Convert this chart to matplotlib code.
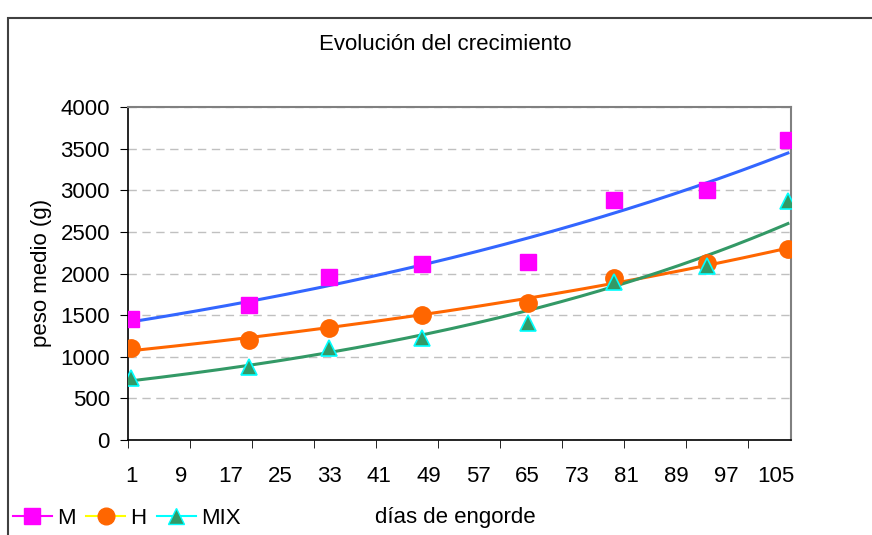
# Imports =====================================================================
import numpy as np
import matplotlib.pyplot as plt
from matplotlib.lines import Line2D
from matplotlib.patches import Rectangle

plt.rcParams['font.family'] = ['Liberation Sans', 'DejaVu Sans']

# Data ========================================================================
dias = [1, 20, 33, 48, 65, 79, 94, 107]
peso_m = [1448, 1620, 1952, 2120, 2140, 2888, 3008, 3600]
peso_h = [1108, 1200, 1340, 1500, 1640, 1948, 2128, 2292]
peso_mix = [740, 880, 1108, 1220, 1400, 1900, 2088, 2868]
label_ticks = list(range(1, 106, 8))
mark_ticks = [d + 0.5 for d in range(0, 101, 10)]


def exp_trend(x, y):
    # exponential trendline (least squares on log y), like the spreadsheet
    b, a = np.polyfit(x, np.log(y), 1)
    xs = np.linspace(min(x), max(x), 200)
    return xs, np.exp(a + b * xs)


# Figure ======================================================================
FS = 16
fig = plt.figure(figsize=(8.72, 5.35), dpi=100)
ax = fig.add_axes([128 / 872, 1 - 440 / 535, (791 - 128) / 872, (440 - 107) / 535])

# outer chart border (cut off at right and bottom)
fig.patches.append(Rectangle((8 / 872, -0.1), 1.1, 1 - 18 / 535 + 0.1,
                             transform=fig.transFigure, fill=False,
                             edgecolor='#404040', linewidth=1.5))

for xs, ys, c in [(dias, peso_m, '#3366FF'), (dias, peso_h, '#FF6600'),
                  (dias, peso_mix, '#339966')]:
    tx, ty = exp_trend(xs, ys)
    ax.plot(tx, ty, color=c, linewidth=2.2, zorder=2)

ax.plot(dias, peso_m, linestyle='none', marker='s', markersize=11.5,
        markerfacecolor='#FF00FF', markeredgecolor='#FF00FF', zorder=3)
ax.plot(dias, peso_h, linestyle='none', marker='o', markersize=12.5,
        markerfacecolor='#FF6600', markeredgecolor='#FF6600', zorder=3)
ax.plot(dias, peso_mix, linestyle='none', marker='^', markersize=12,
        markerfacecolor='#339966', markeredgecolor='#00FFFF', markeredgewidth=1.2,
        zorder=3)

ax.set_xlim(0.5, 107.5)
ax.set_ylim(0, 4000)
ax.set_yticks(range(0, 4001, 500))
ax.set_xticks(label_ticks)
ax.set_xticks(mark_ticks, minor=True)
ax.tick_params(axis='x', which='major', length=0, pad=19, labelsize=FS)
ax.tick_params(axis='x', which='minor', length=6, direction='out', color='black')
ax.tick_params(axis='y', length=6, pad=7, labelsize=FS)
ax.yaxis.grid(True, color='#C0C0C0', linestyle=(0, (6, 4)), linewidth=1)
ax.set_axisbelow(True)

for s in ['top', 'right']:
    ax.spines[s].set_color('#808080')
    ax.spines[s].set_linewidth(1.5)
for s in ['left', 'bottom']:
    ax.spines[s].set_color('black')
    ax.spines[s].set_linewidth(1.2)

fig.text(41 / 872, 1 - 273 / 535, 'peso medio (g)', fontsize=FS,
         rotation=90, ha='center', va='center')
fig.text(455 / 872, 1 - 518 / 535, 'días de engorde', fontsize=FS,
         ha='center', va='center')
fig.text(445 / 872, 1 - 45 / 535, 'Evolución del crecimiento', fontsize=FS,
         ha='center', va='center')

handles = [
    Line2D([], [], color='#FF00FF', marker='s', markersize=11,
           markerfacecolor='#FF00FF', markeredgecolor='#FF00FF', linewidth=1.5),
    Line2D([], [], color='#FFFF00', marker='o', markersize=12,
           markerfacecolor='#FF6600', markeredgecolor='#FF6600', linewidth=1.5),
    Line2D([], [], color='#00FFFF', marker='^', markersize=11,
           markerfacecolor='#339966', markeredgecolor='#00FFFF', linewidth=1.5),
]
fig.legend(handles, ['M', 'H', 'MIX'], ncol=3, loc='center left',
           bbox_to_anchor=(13 / 872, 1 - 518 / 535), frameon=False, fontsize=FS,
           handlelength=1.75, handletextpad=0.25, columnspacing=0.45,
           borderpad=0, borderaxespad=0)

fig.savefig('out.png', dpi=100)
